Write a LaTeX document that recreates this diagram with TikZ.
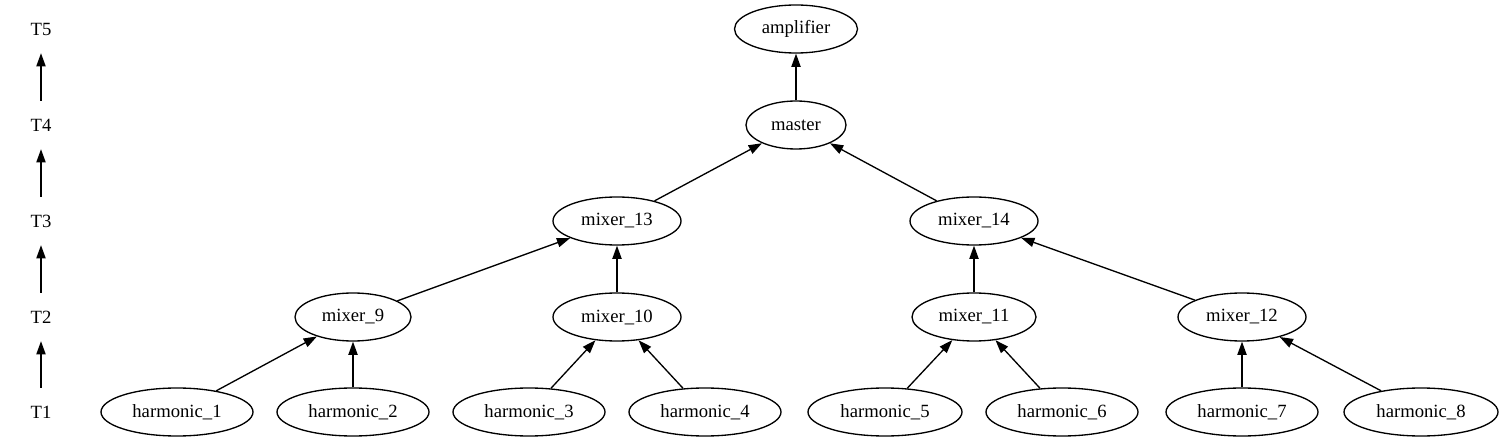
\documentclass[tikz,border=0pt]{standalone}
\usepackage{fontspec}
\setmainfont{Liberation Serif}
\usetikzlibrary{shapes.geometric,arrows.meta}
\begin{document}
\begin{tikzpicture}[x=1pt,y=-1pt,
  every node/.style={font=\fontsize{18.67}{20}\selectfont, inner sep=0pt},
  nd/.style={draw, ellipse, line width=1.33pt, minimum height=48pt},
  lbl/.style={minimum height=48pt, minimum width=54pt},
  edge/.style={line width=1.33pt, -{Triangle[length=13.3pt,width=9.3pt]}}]
\useasboundingbox (0,0) rectangle (1504,443);
% level labels
\node[lbl] (T1) at (41,412) {T1};
\node[lbl] (T2) at (41,317) {T2};
\node[lbl] (T3) at (41,221) {T3};
\node[lbl] (T4) at (41,125) {T4};
\node[lbl] (T5) at (41,29) {T5};
\draw[edge] (T1) -- (T2);
\draw[edge] (T2) -- (T3);
\draw[edge] (T3) -- (T4);
\draw[edge] (T4) -- (T5);
% nodes
\node[nd, minimum width=123pt] (amp) at (796,29) {amplifier};
\node[nd, minimum width=100pt] (master) at (796,125) {master};
\node[nd, minimum width=128pt] (m13) at (617,221) {mixer\_13};
\node[nd, minimum width=128pt] (m14) at (974,221) {mixer\_14};
\node[nd, minimum width=116pt] (m9) at (353,317) {mixer\_9};
\node[nd, minimum width=128pt] (m10) at (617,317) {mixer\_10};
\node[nd, minimum width=124pt] (m11) at (974,317) {mixer\_11};
\node[nd, minimum width=128pt] (m12) at (1242,317) {mixer\_12};
\node[nd, minimum width=152pt] (h1) at (177,412) {harmonic\_1};
\node[nd, minimum width=152pt] (h2) at (353,412) {harmonic\_2};
\node[nd, minimum width=152pt] (h3) at (529,412) {harmonic\_3};
\node[nd, minimum width=152pt] (h4) at (705,412) {harmonic\_4};
\node[nd, minimum width=154pt] (h5) at (885,412) {harmonic\_5};
\node[nd, minimum width=152pt] (h6) at (1062,412) {harmonic\_6};
\node[nd, minimum width=152pt] (h7) at (1242,412) {harmonic\_7};
\node[nd, minimum width=154pt] (h8) at (1421,412) {harmonic\_8};
% edges
\draw[edge] (master) -- (amp);
\draw[edge] (m13) -- (master);
\draw[edge] (m14) -- (master);
\draw[edge] (m9) -- (m13);
\draw[edge] (m10) -- (m13);
\draw[edge] (m11) -- (m14);
\draw[edge] (m12) -- (m14);
\draw[edge] (h1) -- (m9);
\draw[edge] (h2) -- (m9);
\draw[edge] (h3) -- (m10);
\draw[edge] (h4) -- (m10);
\draw[edge] (h5) -- (m11);
\draw[edge] (h6) -- (m11);
\draw[edge] (h7) -- (m12);
\draw[edge] (h8) -- (m12);
\end{tikzpicture}
\end{document}
